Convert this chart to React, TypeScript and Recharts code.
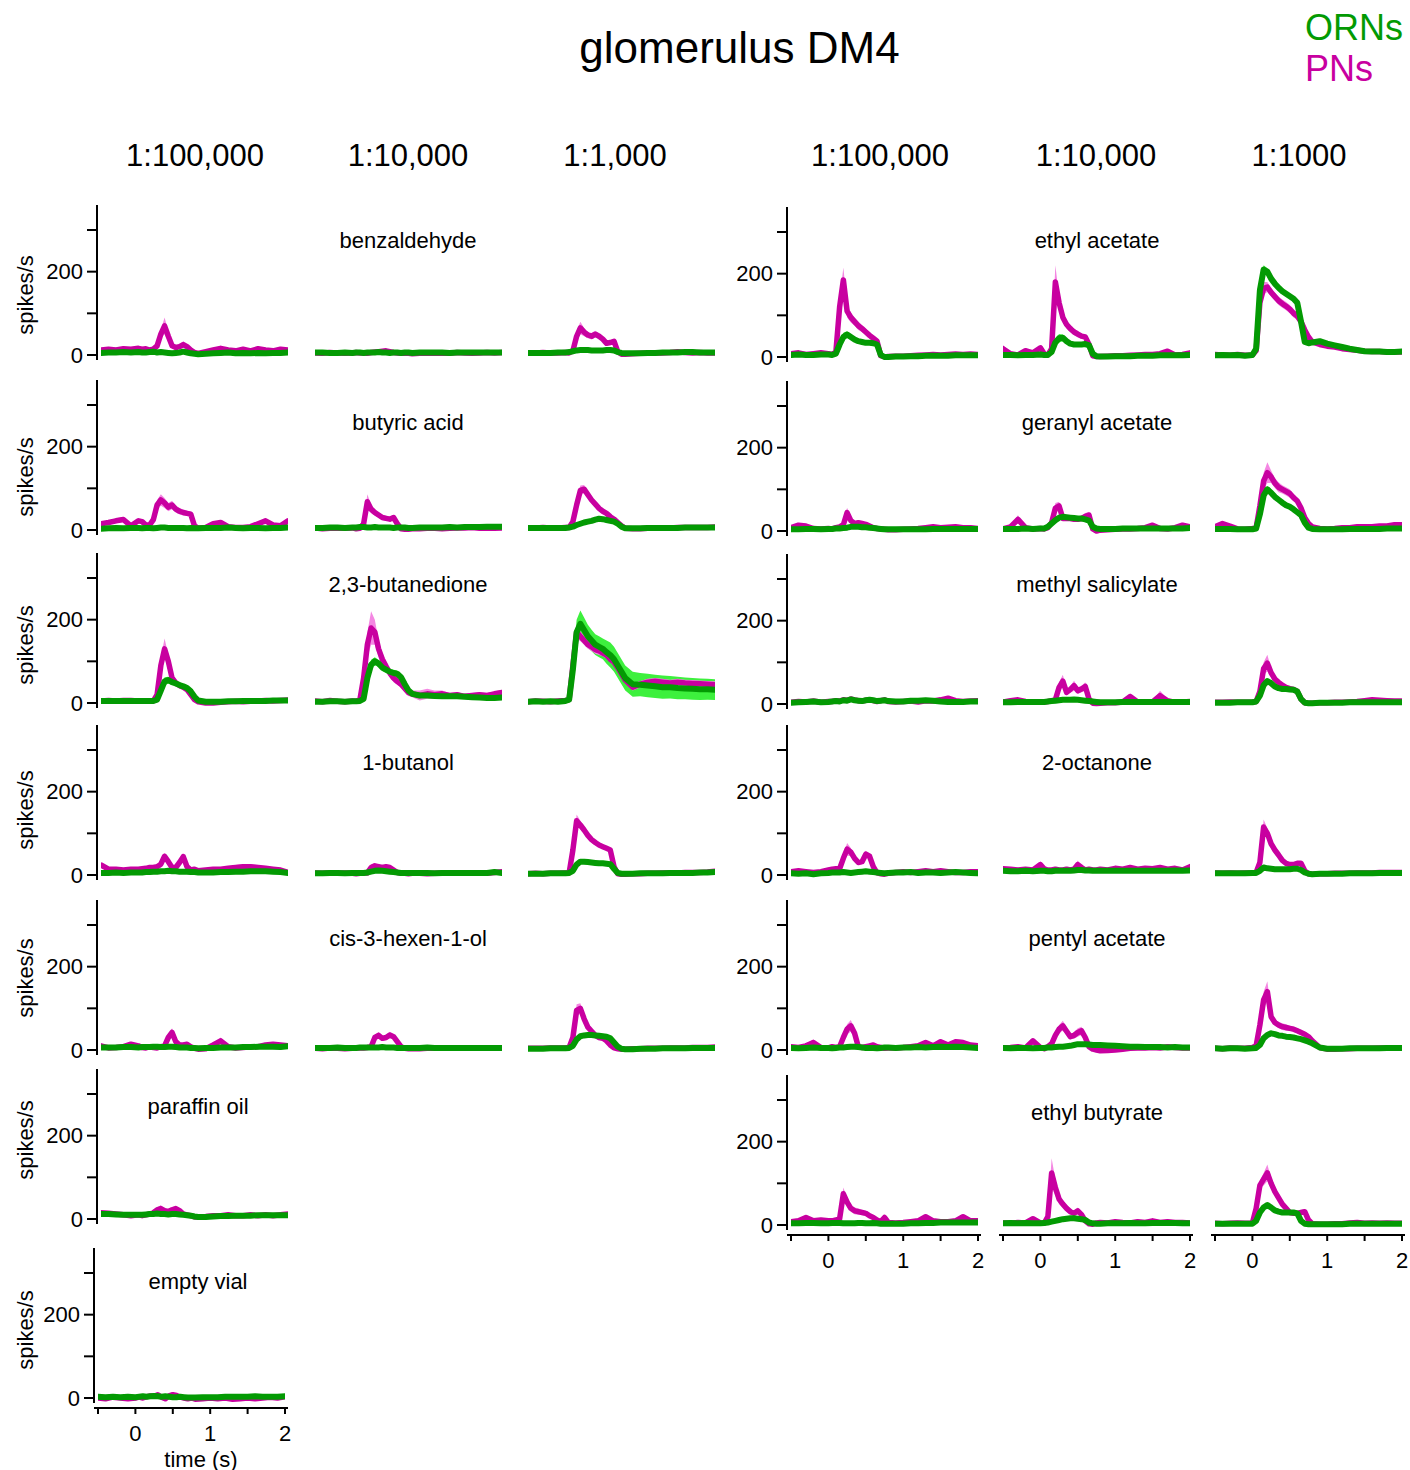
import React from 'react';
import { ComposedChart, Line, Area, XAxis, YAxis } from 'recharts';

// ---------- shared time grid (s) ----------
const T = [-0.5, -0.4, -0.3, -0.2, -0.1, 0, 0.05, 0.1, 0.15, 0.2, 0.25, 0.3, 0.35, 0.4, 0.45, 0.5, 0.55, 0.6, 0.65, 0.7, 0.75, 0.8, 0.9, 1.0, 1.1, 1.2, 1.3, 1.4, 1.5, 1.6, 1.7, 1.8, 1.9, 2.0];

// ---------- labels ----------
const TITLE = 'glomerulus DM4';
const LEFT_DILUTIONS = ['1:100,000', '1:10,000', '1:1,000'];
const RIGHT_DILUTIONS = ['1:100,000', '1:10,000', '1:1000'];
const LEFT_ODORS = ['benzaldehyde', 'butyric acid', '2,3-butanedione', '1-butanol', 'cis-3-hexen-1-ol', 'paraffin oil', 'empty vial'];
const RIGHT_ODORS = ['ethyl acetate', 'geranyl acetate', 'methyl salicylate', '2-octanone', 'pentyl acetate', 'ethyl butyrate'];
const Y_TICKS = [0, 100, 200, 300];
const Y_LABELED = [0, 200];
const X_TICKS = [-0.5, 0, 0.5, 1, 1.5, 2];
const X_LABELED = [0, 1, 2];

// ---------- series (spikes/s) ----------
// benzaldehyde
const BENZ_1_PN = [12,14,12,15,14, 16,14,15,12,14,22,50,70,45,22,18,20,25,20,12,6,4, 8,12,16,12,10,14,10,15,12,10,14,12];
const BENZ_1_ORN = [5,6,6,7,6, 7,6,6,7,8,6,7,6,5,4,5,6,8,6,4,3,2, 3,4,5,6,4,5,4,5,4,5,5,6];
const BENZ_1_PE = [3,3,3,3,3, 3,3,3,3,3,5,10,20,12,6,5,6,8,6,4,3,3, 3,4,5,4,3,5,3,5,3,3,4,4];
const BENZ_2_PN = [5,4,6,5,4, 5,6,5,5,4,6,7,8,9,10,8,6,5,4,5,4,3, 4,5,4,5,4,6,5,4,5,6,5,6];
const BENZ_2_ORN = [6,6,5,5,6, 5,6,6,5,6,6,6,7,6,6,5,6,6,5,6,6,5, 6,6,6,6,5,6,6,6,6,6,6,6];
const BENZ_3_PN = [5,5,6,5,5, 6,5,10,45,65,55,48,45,50,45,38,28,30,33,8,2,2, 3,4,4,5,5,6,8,6,5,6,5,5];
const BENZ_3_ORN = [5,5,5,5,6, 6,7,9,11,12,12,12,11,11,11,11,12,12,11,7,5,4, 4,4,5,5,6,6,6,7,7,6,6,6];
const BENZ_3_PE = [3,3,3,3,3, 3,3,5,12,15,10,8,8,8,6,6,5,5,6,4,3,3, 3,3,3,3,3,3,4,3,3,3,3,3];
// butyric acid
const BUTY_1_PN = [15,18,22,25,10, 22,20,12,12,25,60,72,65,55,60,50,45,42,40,38,10,4, 6,15,18,8,6,6,8,15,22,12,10,22];
const BUTY_1_ORN = [3,4,5,4,5, 5,4,5,5,4,5,6,6,5,5,5,5,5,4,5,4,4, 5,5,5,6,5,4,5,5,4,5,5,6];
const BUTY_1_PE = [5,5,6,6,4, 6,6,4,4,8,12,14,12,10,10,8,8,7,6,6,4,3, 3,5,5,3,3,3,3,5,6,4,4,6];
const BUTY_2_PN = [5,3,4,5,4, 5,3,4,15,68,50,42,36,30,28,26,30,15,3,2,2,3, 3,4,4,3,4,5,5,6,4,5,4,5];
const BUTY_2_ORN = [5,5,6,6,5, 6,6,7,7,6,6,7,6,6,6,6,5,6,6,6,5,5, 6,6,6,6,7,6,7,7,7,8,8,8];
const BUTY_2_PE = [3,3,3,3,3, 3,3,3,6,18,10,8,6,6,6,5,6,4,3,3,3,3, 3,3,3,3,3,3,3,3,3,3,3,3];
const BUTY_3_PN = [5,5,6,5,5, 6,6,20,60,95,98,85,72,62,52,45,40,32,26,18,10,4, 3,3,4,4,5,5,6,6,6,6,6,7];
const BUTY_3_ORN = [5,5,5,5,5, 5,6,8,12,15,18,20,22,25,27,26,24,22,20,15,8,4, 4,4,5,5,5,5,5,6,6,6,6,6];
const BUTY_3_PE = [3,3,3,3,3, 3,3,5,8,12,10,8,6,5,5,5,4,4,4,3,3,3, 3,3,3,3,3,3,3,3,3,3,3,3];
// 2,3-butanedione
const BUTA_1_PN = [5,6,5,6,6, 5,5,5,5,5,20,90,130,100,60,48,42,38,32,20,8,3, 0,0,2,3,4,3,4,5,6,5,6,7];
const BUTA_1_ORN = [5,5,5,5,5, 5,5,5,5,5,8,30,52,55,50,47,43,40,36,28,15,6, 3,3,3,4,4,5,5,5,5,6,6,6];
const BUTA_1_PE = [3,3,3,3,3, 3,3,3,3,3,6,20,25,15,10,8,8,6,6,5,4,3, 3,3,3,3,3,3,3,3,3,3,3,3];
const BUTA_1_OE = [3,3,3,3,3, 3,3,3,3,3,3,8,10,8,6,5,5,5,4,4,3,3, 3,3,3,3,3,3,3,3,3,3,3,3];
const BUTA_2_PN = [5,3,6,4,3, 5,4,8,60,140,180,170,130,105,88,72,60,52,45,35,25,22, 18,22,20,22,18,20,16,18,20,18,22,25];
const BUTA_2_ORN = [3,3,4,4,3, 4,4,5,10,60,92,100,95,85,80,75,72,70,62,45,30,22, 18,18,17,16,16,16,15,14,13,12,12,13];
const BUTA_2_PE = [3,3,3,3,3, 3,3,5,15,30,40,30,20,15,12,10,10,8,8,8,8,8, 12,12,10,8,6,6,6,6,6,6,6,6];
const BUTA_2_OE = [3,3,3,3,3, 3,3,3,6,10,12,10,8,8,8,8,8,8,6,6,5,5, 5,5,5,5,5,5,5,5,5,5,5,5];
const BUTA_3_PN = [3,5,4,3,5, 6,8,90,170,160,150,140,135,128,125,120,115,105,98,85,70,55, 38,45,50,52,50,48,50,48,47,46,45,44];
const BUTA_3_ORN = [3,4,3,4,3, 5,8,80,170,190,175,160,150,140,135,130,122,115,105,90,75,60, 45,44,42,40,38,38,36,35,34,33,33,32];
const BUTA_3_PE = [3,3,3,3,3, 3,4,10,15,12,10,10,10,10,10,8,8,8,8,8,8,8, 8,8,8,8,8,8,8,8,8,8,8,8];
const BUTA_3_OE = [3,3,3,3,3, 3,5,20,30,32,30,28,26,25,25,25,28,30,30,30,30,30, 30,28,28,28,28,27,27,26,26,26,25,25];
// 1-butanol
const BUTN_1_PN = [24,14,14,12,14, 14,15,16,18,18,20,26,45,32,18,18,30,44,20,12,14,10, 12,14,14,16,18,20,20,18,16,14,12,6];
const BUTN_1_ORN = [5,5,6,5,6, 6,6,7,7,8,8,9,9,10,9,9,8,8,8,7,7,6, 6,6,7,7,8,8,9,9,9,8,7,5];
const BUTN_1_PE = [6,4,4,4,4, 4,4,4,4,4,4,6,8,6,4,4,6,8,5,4,4,4, 4,4,4,5,6,6,6,5,5,4,4,6];
const BUTN_2_PN = [5,4,5,4,5, 4,3,4,5,5,18,22,20,18,20,18,12,6,4,4,3,4, 4,3,4,5,4,5,5,4,5,4,6,8];
const BUTN_2_ORN = [4,4,5,5,4, 5,5,5,5,6,8,10,11,10,9,8,7,6,5,5,5,5, 5,5,4,5,5,5,5,5,5,5,7,5];
const BUTN_2_PE = [3,3,3,3,3, 3,3,3,3,3,8,6,5,4,5,4,4,3,3,3,3,3, 3,3,3,3,3,3,3,3,3,3,3,3];
const BUTN_3_PN = [3,4,3,4,4, 5,5,60,130,120,108,95,85,78,72,68,64,60,20,3,2,2, 3,3,4,4,5,5,5,6,6,6,7,9];
const BUTN_3_ORN = [3,3,3,4,4, 4,5,10,25,32,32,31,30,29,28,28,27,26,15,5,3,3, 3,4,4,4,4,5,5,5,5,6,6,7];
const BUTN_3_PE = [3,3,3,3,3, 3,3,8,15,10,8,8,6,6,6,5,5,5,4,3,3,3, 3,3,3,3,3,3,3,3,3,3,3,3];
// cis-3-hexen-1-ol
const HEX_1_PN = [10,5,6,8,14, 10,6,5,8,6,5,8,10,30,42,20,12,12,14,8,4,2, 3,12,22,8,5,6,8,8,12,14,12,10];
const HEX_1_ORN = [6,6,6,7,7, 6,7,7,7,8,8,7,7,8,8,7,6,6,6,5,5,4, 5,5,6,6,6,7,7,8,8,8,7,9];
const HEX_1_PE = [5,3,3,3,5, 3,3,3,3,3,3,3,4,8,10,6,4,4,4,3,3,3, 3,5,8,4,3,3,3,3,4,5,4,4];
const HEX_2_PN = [4,3,5,4,3, 4,5,5,5,6,8,30,35,28,30,36,32,20,8,4,3,3, 3,4,4,5,4,5,4,5,4,5,4,5];
const HEX_2_ORN = [5,5,5,6,5, 5,5,6,6,6,6,6,6,7,6,6,6,5,5,5,5,5, 5,6,5,5,5,5,5,5,5,5,5,5];
const HEX_2_PE = [3,3,3,3,3, 3,3,3,3,3,3,6,8,6,6,8,6,4,3,3,3,3, 3,3,3,3,3,3,3,3,3,3,3,3];
const HEX_3_PN = [4,4,4,5,5, 5,6,30,95,100,75,55,45,35,30,28,22,12,5,3,2,2, 3,3,4,4,4,5,5,5,6,6,6,7];
const HEX_3_ORN = [3,3,3,4,4, 4,5,10,25,33,35,36,36,35,34,33,32,28,18,8,3,2, 2,3,3,3,4,4,4,4,5,5,5,5];
const HEX_3_PE = [3,3,3,3,3, 3,3,8,15,12,8,6,5,4,4,4,3,3,3,3,3,3, 3,3,3,3,3,3,3,3,3,3,3,3];
// paraffin oil
const PARA_PN = [15,14,12,10,8, 10,8,10,12,15,22,25,20,18,22,25,20,12,10,8,5,5, 6,8,8,10,8,8,10,8,10,8,10,12];
const PARA_ORN = [12,12,11,10,10, 10,10,11,12,12,13,12,12,11,12,12,11,10,9,8,6,5, 5,6,7,7,8,8,8,9,9,9,9,9];
const PARA_PE = [4,4,3,3,3, 3,3,3,3,4,6,8,5,4,6,6,5,3,3,3,3,3, 3,3,3,3,3,3,3,3,3,3,3,3];
// empty vial
const EMPTY_PN = [0,-2,2,0,-2, 0,2,0,3,5,4,8,2,-2,5,8,6,2,0,-2,0,-3, -2,0,-2,0,-3,-2,0,-2,0,2,0,3];
const EMPTY_ORN = [3,2,3,2,3, 2,3,4,3,4,5,4,3,4,3,2,2,3,2,1,1,1, 2,2,2,3,3,3,3,4,3,3,3,4];
// ethyl acetate
const ETAC_1_PN = [8,10,6,8,10, 8,6,12,120,185,110,95,85,75,68,60,52,45,38,3,0,1, 2,2,3,4,5,6,5,6,7,6,7,6];
const ETAC_1_ORN = [5,6,5,5,6, 6,5,8,30,48,54,48,42,38,36,34,34,33,30,5,0,0, 1,1,2,2,3,3,3,3,4,4,4,4];
const ETAC_1_PE = [3,3,3,3,3, 3,3,5,20,30,15,12,10,10,8,8,8,6,6,3,3,3, 3,3,3,3,3,3,3,3,3,3,3,3];
const ETAC_1_OE = [3,3,3,3,3, 3,3,3,6,10,8,6,5,5,5,4,4,4,4,3,3,3, 3,3,3,3,3,3,3,3,3,3,3,3];
const ETAC_2_PN = [20,8,5,15,10, 22,8,5,20,180,130,95,78,68,60,55,50,48,30,3,1,1, 2,3,3,4,5,6,6,8,14,5,6,10];
const ETAC_2_ORN = [5,5,4,5,5, 6,5,5,12,35,45,46,38,32,30,30,30,31,28,8,2,1, 1,2,2,2,3,3,3,4,4,4,4,5];
const ETAC_2_PE = [8,4,3,5,4, 6,3,3,8,40,15,12,10,8,8,8,6,6,5,3,3,3, 3,3,3,3,3,3,3,4,6,3,3,5];
const ETAC_2_OE = [3,3,3,3,3, 3,3,3,5,10,10,8,6,5,5,5,5,5,4,3,3,3, 3,3,3,3,3,3,3,3,3,3,3,3];
const ETAC_3_PN = [6,5,4,6,4, 5,15,130,165,168,155,145,135,128,122,115,105,98,85,65,48,36, 30,26,24,20,18,16,14,13,13,12,12,12];
const ETAC_3_ORN = [4,5,4,5,3, 5,20,160,210,205,188,176,166,158,152,146,140,130,85,36,33,35, 38,32,28,24,20,17,14,13,13,12,12,13];
const ETAC_3_PE = [3,3,3,3,3, 3,5,12,15,12,10,10,10,10,10,10,10,8,8,8,6,5, 5,4,4,4,3,3,3,3,3,3,3,3];
const ETAC_3_OE = [3,3,3,3,3, 3,5,10,10,8,6,6,6,6,6,6,6,6,6,5,5,4, 4,4,3,3,3,3,3,3,3,3,3,3];
// geranyl acetate
const GERA_1_PN = [8,14,12,6,5, 6,5,8,10,15,44,25,18,20,18,16,12,8,6,5,4,3, 3,4,5,6,8,10,8,9,10,8,8,6];
const GERA_1_ORN = [4,4,5,5,4, 5,5,6,6,7,8,10,10,10,9,9,8,7,6,5,4,4, 4,4,4,4,4,5,5,5,5,5,5,5];
const GERA_1_PE = [3,5,4,3,3, 3,3,3,3,4,12,6,4,5,4,4,3,3,3,3,3,3, 3,3,3,3,3,4,3,3,4,3,3,3];
const GERA_2_PN = [5,10,28,8,5, 6,5,8,20,55,60,30,30,30,28,28,30,35,38,5,0,2, 3,4,5,5,6,8,14,6,5,8,14,10];
const GERA_2_ORN = [5,5,5,6,5, 6,6,10,18,26,32,34,33,32,31,30,30,28,25,10,6,5, 5,5,6,6,6,6,6,6,6,6,6,7];
const GERA_2_PE = [3,4,10,4,3, 3,3,3,6,12,10,6,5,5,5,5,6,8,8,3,3,3, 3,3,3,3,3,3,6,3,3,4,6,4];
const GERA_3_PN = [10,18,12,5,4, 6,8,60,120,140,130,115,105,100,95,90,80,72,55,32,18,10, 6,5,6,8,8,10,10,10,12,12,15,15];
const GERA_3_ORN = [5,5,5,4,4, 4,6,40,85,100,92,82,75,68,62,58,52,45,38,20,8,5, 4,4,4,4,5,5,5,5,5,6,6,6];
const GERA_3_PE = [4,5,4,3,3, 3,3,10,20,25,15,12,12,10,10,10,8,8,8,6,4,3, 3,3,3,3,3,3,3,3,4,4,5,5];
const GERA_3_OE = [3,3,3,3,3, 3,3,6,8,8,6,5,5,5,5,5,5,4,4,3,3,3, 3,3,3,3,3,3,3,3,3,3,3,3];
// methyl salicylate
const METH_1_PN = [4,6,5,7,4, 6,6,8,7,10,9,12,10,8,7,9,10,8,6,8,10,6, 5,6,7,5,8,7,10,14,8,6,7,8];
const METH_1_ORN = [3,4,5,6,4, 5,6,7,6,9,8,11,9,8,7,9,10,9,7,8,9,7, 6,6,8,8,9,8,6,5,5,5,6,6];
const METH_2_PN = [5,8,10,6,5, 4,5,6,8,10,40,55,28,35,44,32,36,42,12,2,1,2, 3,3,5,18,5,4,5,20,8,4,5,6];
const METH_2_ORN = [4,4,5,5,5, 5,5,6,7,8,9,10,10,10,11,10,9,8,7,6,5,4, 4,4,5,5,5,5,5,5,5,5,5,5];
const METH_2_PE = [3,3,4,3,3, 3,3,3,3,4,12,15,6,8,12,8,8,10,5,3,3,3, 3,3,3,8,3,3,3,12,4,3,3,3];
const METH_3_PN = [4,4,5,4,4, 5,6,30,85,98,75,60,52,45,40,37,35,30,12,3,2,2, 3,3,4,4,5,6,8,10,9,8,7,7];
const METH_3_ORN = [3,3,3,4,4, 4,6,20,45,55,50,42,38,36,36,35,34,30,12,3,2,2, 3,3,3,3,4,4,4,4,4,4,4,4];
const METH_3_PE = [3,3,3,3,3, 3,3,8,15,20,10,8,6,5,5,5,4,4,3,3,3,3, 3,3,3,3,3,3,3,4,4,3,3,3];
// 2-octanone
const OCT_1_PN = [8,10,8,6,8, 12,14,15,15,40,62,55,40,30,32,50,45,20,5,3,2,4, 6,8,6,8,10,8,10,8,6,6,8,8];
const OCT_1_ORN = [4,3,4,2,4, 5,6,6,6,7,6,5,6,7,8,9,8,7,6,5,4,5, 6,6,7,5,6,6,5,6,7,6,5,4];
const OCT_1_PE = [3,3,3,3,3, 4,4,4,4,8,15,10,6,5,6,8,6,4,3,3,3,3, 3,3,3,3,3,3,3,3,3,3,3,3];
const OCT_2_PN = [15,14,12,14,12, 25,15,12,12,14,12,12,14,12,14,25,18,12,14,12,12,14, 12,16,14,18,14,16,15,18,14,16,12,20];
const OCT_2_ORN = [10,9,9,10,9, 10,10,9,9,10,10,10,10,10,11,12,12,11,11,10,10,10, 10,10,10,10,10,10,10,10,10,11,10,11];
const OCT_2_PE = [4,4,3,4,3, 8,4,3,3,4,3,3,4,3,4,10,5,3,4,3,3,4, 3,4,4,5,4,4,4,5,4,4,3,6];
const OCT_3_PN = [5,4,5,4,5, 5,6,30,115,100,75,60,48,35,28,25,25,28,28,10,3,2, 3,3,4,4,4,5,5,5,6,6,6,6];
const OCT_3_ORN = [4,4,4,4,4, 5,5,10,18,16,15,14,14,14,14,14,15,15,12,6,3,2, 3,3,3,3,4,4,4,4,5,5,5,5];
const OCT_3_PE = [3,3,3,3,3, 3,3,8,18,12,8,6,5,5,4,4,4,5,5,3,3,3, 3,3,3,3,3,3,3,3,3,3,3,3];
// pentyl acetate
const PENT_1_PN = [8,6,10,18,6, 5,8,6,8,30,50,58,40,8,6,8,10,12,8,6,4,5, 5,6,8,10,18,10,20,12,20,18,12,10];
const PENT_1_ORN = [5,4,5,6,5, 5,4,5,6,6,7,8,8,7,6,5,5,5,4,5,6,6, 5,6,6,7,6,7,8,7,8,7,6,5];
const PENT_1_PE = [3,4,5,8,3, 3,3,3,3,8,12,14,10,3,3,3,3,4,3,3,3,3, 3,3,3,4,6,3,6,4,6,6,4,3];
const PENT_2_PN = [5,6,8,5,22, 6,3,8,15,35,50,58,45,32,35,42,46,30,8,2,0,-2, -1,0,2,4,5,5,6,5,8,6,5,5];
const PENT_2_ORN = [5,4,5,5,4, 5,5,6,6,7,8,8,9,10,12,14,14,14,13,12,12,12, 11,10,9,8,8,7,7,7,6,7,6,6];
const PENT_2_PE = [3,3,4,3,6, 3,3,3,4,8,10,12,10,6,8,10,10,6,3,3,3,3, 3,3,3,3,3,3,3,3,3,3,3,3];
const PENT_3_PN = [4,3,5,4,4, 6,10,60,120,140,80,66,60,56,54,52,50,46,42,38,32,22, 6,2,2,3,3,4,4,4,5,5,5,5];
const PENT_3_ORN = [4,3,4,4,3, 4,5,12,28,36,40,38,35,34,32,31,30,28,26,23,20,16, 6,3,3,3,4,4,4,4,4,5,5,5];
const PENT_3_PE = [3,3,3,3,3, 3,4,10,20,25,12,8,8,8,8,6,6,6,6,6,5,4, 3,3,3,3,3,3,3,3,3,3,3,3];
const PENT_3_OE = [3,3,3,3,3, 3,3,4,5,6,6,5,5,5,5,4,4,4,4,4,3,3, 3,3,3,3,3,3,3,3,3,3,3,3];
// ethyl butyrate
const ETBU_1_PN = [8,10,18,10,12, 10,10,12,15,75,55,40,34,32,30,28,22,18,12,8,18,6, 5,6,8,10,20,10,8,8,10,20,10,10];
const ETBU_1_ORN = [4,4,5,5,4, 4,5,5,5,4,4,4,4,5,5,4,4,5,4,3,3,3, 3,3,4,4,5,5,6,6,6,6,6,6];
const ETBU_1_PE = [3,3,5,3,3, 3,3,3,4,15,10,8,8,8,6,6,5,4,3,3,5,3, 3,3,3,3,6,3,3,3,3,6,3,3];
const ETBU_2_PN = [5,4,6,5,15, 5,4,20,125,90,62,50,40,32,28,34,25,10,3,2,5,6, 5,8,6,5,8,6,10,6,8,6,6,5];
const ETBU_2_ORN = [4,5,4,5,4, 4,5,6,8,10,12,14,15,16,16,15,14,12,6,4,3,3, 4,4,4,5,4,4,5,5,5,5,4,4];
const ETBU_2_PE = [3,3,3,3,5, 3,3,6,35,20,12,8,8,6,6,8,6,4,3,3,3,3, 3,3,3,3,3,3,4,3,3,3,3,3];
const ETBU_3_PN = [4,3,4,5,4, 5,40,95,110,125,100,80,65,50,40,30,28,28,30,32,12,3, 2,2,3,3,5,6,4,5,4,5,4,4];
const ETBU_3_ORN = [3,3,3,3,3, 3,10,30,42,48,42,35,32,30,30,30,30,28,10,3,2,2, 2,2,2,2,3,3,3,3,3,3,3,3];
const ETBU_3_PE = [3,3,3,3,3, 3,6,12,15,20,12,10,8,6,6,5,5,5,6,6,4,3, 3,3,3,3,3,3,3,3,3,3,3,3];
const ETBU_3_OE = [3,3,3,3,3, 3,3,5,6,6,5,4,4,4,4,4,4,4,3,3,3,3, 3,3,3,3,3,3,3,3,3,3,3,3];

type PanelData = { pn: number[]; orn: number[]; pe?: number[]; oe?: number[] };

const LEFT_ROWS: PanelData[][] = [
  [{ pn: BENZ_1_PN, orn: BENZ_1_ORN, pe: BENZ_1_PE }, { pn: BENZ_2_PN, orn: BENZ_2_ORN }, { pn: BENZ_3_PN, orn: BENZ_3_ORN, pe: BENZ_3_PE }],
  [{ pn: BUTY_1_PN, orn: BUTY_1_ORN, pe: BUTY_1_PE }, { pn: BUTY_2_PN, orn: BUTY_2_ORN, pe: BUTY_2_PE }, { pn: BUTY_3_PN, orn: BUTY_3_ORN, pe: BUTY_3_PE }],
  [{ pn: BUTA_1_PN, orn: BUTA_1_ORN, pe: BUTA_1_PE, oe: BUTA_1_OE }, { pn: BUTA_2_PN, orn: BUTA_2_ORN, pe: BUTA_2_PE, oe: BUTA_2_OE }, { pn: BUTA_3_PN, orn: BUTA_3_ORN, pe: BUTA_3_PE, oe: BUTA_3_OE }],
  [{ pn: BUTN_1_PN, orn: BUTN_1_ORN, pe: BUTN_1_PE }, { pn: BUTN_2_PN, orn: BUTN_2_ORN, pe: BUTN_2_PE }, { pn: BUTN_3_PN, orn: BUTN_3_ORN, pe: BUTN_3_PE }],
  [{ pn: HEX_1_PN, orn: HEX_1_ORN, pe: HEX_1_PE }, { pn: HEX_2_PN, orn: HEX_2_ORN, pe: HEX_2_PE }, { pn: HEX_3_PN, orn: HEX_3_ORN, pe: HEX_3_PE }],
  [{ pn: PARA_PN, orn: PARA_ORN, pe: PARA_PE }],
  [{ pn: EMPTY_PN, orn: EMPTY_ORN }],
];

const RIGHT_ROWS: PanelData[][] = [
  [{ pn: ETAC_1_PN, orn: ETAC_1_ORN, pe: ETAC_1_PE, oe: ETAC_1_OE }, { pn: ETAC_2_PN, orn: ETAC_2_ORN, pe: ETAC_2_PE, oe: ETAC_2_OE }, { pn: ETAC_3_PN, orn: ETAC_3_ORN, pe: ETAC_3_PE, oe: ETAC_3_OE }],
  [{ pn: GERA_1_PN, orn: GERA_1_ORN, pe: GERA_1_PE }, { pn: GERA_2_PN, orn: GERA_2_ORN, pe: GERA_2_PE }, { pn: GERA_3_PN, orn: GERA_3_ORN, pe: GERA_3_PE, oe: GERA_3_OE }],
  [{ pn: METH_1_PN, orn: METH_1_ORN }, { pn: METH_2_PN, orn: METH_2_ORN, pe: METH_2_PE }, { pn: METH_3_PN, orn: METH_3_ORN, pe: METH_3_PE }],
  [{ pn: OCT_1_PN, orn: OCT_1_ORN, pe: OCT_1_PE }, { pn: OCT_2_PN, orn: OCT_2_ORN, pe: OCT_2_PE }, { pn: OCT_3_PN, orn: OCT_3_ORN, pe: OCT_3_PE }],
  [{ pn: PENT_1_PN, orn: PENT_1_ORN, pe: PENT_1_PE }, { pn: PENT_2_PN, orn: PENT_2_ORN, pe: PENT_2_PE }, { pn: PENT_3_PN, orn: PENT_3_ORN, pe: PENT_3_PE, oe: PENT_3_OE }],
  [{ pn: ETBU_1_PN, orn: ETBU_1_ORN, pe: ETBU_1_PE }, { pn: ETBU_2_PN, orn: ETBU_2_ORN, pe: ETBU_2_PE }, { pn: ETBU_3_PN, orn: ETBU_3_ORN, pe: ETBU_3_PE, oe: ETBU_3_OE }],
];

// ---------- layout ----------
const FONT = '"Liberation Sans", Arial, Helvetica, sans-serif';
const PN_COLOR = '#C800A0';
const PN_BAND = '#F487E2';
const ORN_COLOR = '#039A03';
const ORN_BAND = '#3DF03D';

const PXS = 74.8;
const UNIT = 0.4167;
const Y_MIN = -12;
const Y_MAX = 360;
const PAD_L = 4;
const PAD_R = 3;
const YAXIS_W = 60;

const LEFT_X0 = [101, 314.5, 528];
const EMPTY_X0 = 98;
const RIGHT_X0 = [791, 1003, 1215];
const LEFT_ZERO = [355, 530, 703, 875, 1050, 1219, 1398];
const RIGHT_ZERO = [357, 531, 704, 875, 1050, 1225];
const LEFT_LABEL_Y = [240, 422, 584, 762, 938, 1106, 1281];
const RIGHT_LABEL_Y = [240, 422, 584, 762, 938, 1112];
const SPIKES_Y = [295, 477, 645, 810, 978, 1140, 1330];

function buildRows(p: PanelData) {
  return T.map((t, i) => ({
    t,
    pn: p.pn[i],
    orn: p.orn[i],
    pnBand: p.pe ? [p.pn[i] - p.pe[i], p.pn[i] + p.pe[i]] : undefined,
    ornBand: p.oe ? [p.orn[i] - p.oe[i], p.orn[i] + p.oe[i]] : undefined,
  }));
}

const axisStroke = { stroke: '#000', strokeWidth: 2 };
const tickStyle = { fill: '#000', fontSize: 22, fontFamily: FONT };

function Panel({ x0, zeroY, panel, showY }: { x0: number; zeroY: number; panel: PanelData; showY: boolean }) {
  const m = { top: 14, right: 4, bottom: 14, left: 4 };
  const plotW = PAD_L + 2.5 * PXS + PAD_R;
  const plotH = (Y_MAX - Y_MIN) * UNIT;
  const yw = showY ? YAXIS_W : 0;
  const width = m.left + yw + plotW + m.right;
  const height = m.top + plotH + m.bottom;
  const left = x0 - PAD_L - yw - m.left;
  const top = zeroY - Y_MAX * UNIT - m.top;
  const data = buildRows(panel);
  return (
    <div style={{ position: 'absolute', left, top, width, height }}>
      <ComposedChart width={width} height={height} margin={m} data={data}>
        <XAxis type="number" dataKey="t" domain={[-0.5, 2]} hide padding={{ left: PAD_L, right: PAD_R }} allowDataOverflow />
        {showY ? (
          <YAxis
            type="number"
            domain={[Y_MIN, Y_MAX]}
            ticks={Y_TICKS}
            interval={0}
            tickFormatter={(v: number) => (Y_LABELED.includes(v) ? String(v) : '')}
            width={YAXIS_W}
            tickSize={10}
            tickMargin={4}
            axisLine={axisStroke}
            tickLine={axisStroke}
            tick={tickStyle}
            allowDataOverflow
          />
        ) : (
          <YAxis type="number" domain={[Y_MIN, Y_MAX]} hide allowDataOverflow />
        )}
        {panel.oe && (
          <Area type="linear" dataKey="ornBand" stroke="none" fill={ORN_BAND} fillOpacity={1} dot={false} activeDot={false} isAnimationActive={false} />
        )}
        {panel.pe && (
          <Area type="linear" dataKey="pnBand" stroke="none" fill={PN_BAND} fillOpacity={1} dot={false} activeDot={false} isAnimationActive={false} />
        )}
        <Line type="linear" dataKey="pn" stroke={PN_COLOR} strokeWidth={5.5} strokeLinejoin="round" strokeLinecap="round" dot={false} activeDot={false} isAnimationActive={false} />
        <Line type="linear" dataKey="orn" stroke={ORN_COLOR} strokeWidth={6} strokeLinejoin="round" strokeLinecap="round" dot={false} activeDot={false} isAnimationActive={false} />
      </ComposedChart>
    </div>
  );
}

const AXIS_DATA = [{ t: -0.5, v: 0 }, { t: 2, v: 0 }];

function TimeAxis({ x0, axisY }: { x0: number; axisY: number }) {
  const m = { top: 0, right: 4, bottom: 0, left: 4 };
  const plotW = PAD_L + 2.5 * PXS + PAD_R;
  const xh = 44;
  const height = 50;
  const width = m.left + plotW + m.right;
  const left = x0 - PAD_L - m.left;
  const top = axisY - (height - xh);
  return (
    <div style={{ position: 'absolute', left, top, width, height }}>
      <ComposedChart width={width} height={height} margin={m} data={AXIS_DATA}>
        <XAxis
          type="number"
          dataKey="t"
          domain={[-0.5, 2]}
          ticks={X_TICKS}
          interval={0}
          tickFormatter={(v: number) => (X_LABELED.includes(v) ? String(v) : '')}
          padding={{ left: PAD_L, right: PAD_R }}
          height={xh}
          tickSize={6}
          tickMargin={11}
          axisLine={axisStroke}
          tickLine={axisStroke}
          tick={tickStyle}
          allowDataOverflow
        />
        <YAxis type="number" domain={[0, 1]} hide />
        <Line dataKey="v" stroke="none" dot={false} activeDot={false} isAnimationActive={false} />
      </ComposedChart>
    </div>
  );
}

export default function App() {
  return (
    <div style={{ position: 'absolute', left: 0, top: 0, width: 1410, height: 1470, background: '#fff', fontFamily: FONT }}>
      {LEFT_ROWS.map((row, r) =>
        row.map((p, c) => (
          <Panel key={`L${r}-${c}`} x0={r === 6 ? EMPTY_X0 : LEFT_X0[c]} zeroY={LEFT_ZERO[r]} panel={p} showY={c === 0} />
        ))
      )}
      {RIGHT_ROWS.map((row, r) =>
        row.map((p, c) => <Panel key={`R${r}-${c}`} x0={RIGHT_X0[c]} zeroY={RIGHT_ZERO[r]} panel={p} showY={c === 0} />)
      )}
      <TimeAxis x0={EMPTY_X0} axisY={1408} />
      {RIGHT_X0.map((x) => (
        <TimeAxis key={`ax${x}`} x0={x} axisY={1235} />
      ))}
      <svg width={1410} height={1470} style={{ position: 'absolute', left: 0, top: 0, pointerEvents: 'none' }} fontFamily={FONT}>
        <text x={739.5} y={47} fontSize={44} textAnchor="middle" dominantBaseline="central" fill="#000">{TITLE}</text>
        <text x={1305} y={27} fontSize={36} textAnchor="start" dominantBaseline="central" fill={ORN_COLOR}>ORNs</text>
        <text x={1305} y={68} fontSize={36} textAnchor="start" dominantBaseline="central" fill={PN_COLOR}>PNs</text>
        {LEFT_DILUTIONS.map((d, i) => (
          <text key={`ld${i}`} x={[195, 408, 615][i]} y={155} fontSize={31} textAnchor="middle" dominantBaseline="central" fill="#000">{d}</text>
        ))}
        {RIGHT_DILUTIONS.map((d, i) => (
          <text key={`rd${i}`} x={[880, 1096, 1299][i]} y={155} fontSize={31} textAnchor="middle" dominantBaseline="central" fill="#000">{d}</text>
        ))}
        {LEFT_ODORS.map((o, i) => (
          <text key={`lo${i}`} x={i >= 5 ? 198 : 408} y={LEFT_LABEL_Y[i]} fontSize={22} textAnchor="middle" dominantBaseline="central" fill="#000">{o}</text>
        ))}
        {RIGHT_ODORS.map((o, i) => (
          <text key={`ro${i}`} x={1097} y={RIGHT_LABEL_Y[i]} fontSize={22} textAnchor="middle" dominantBaseline="central" fill="#000">{o}</text>
        ))}
        {SPIKES_Y.map((y, i) => (
          <text key={`sp${i}`} x={25} y={y} fontSize={22} textAnchor="middle" dominantBaseline="central" fill="#000" transform={`rotate(-90 25 ${y})`}>spikes/s</text>
        ))}
        <text x={201} y={1459} fontSize={22} textAnchor="middle" dominantBaseline="central" fill="#000">time (s)</text>
      </svg>
    </div>
  );
}
